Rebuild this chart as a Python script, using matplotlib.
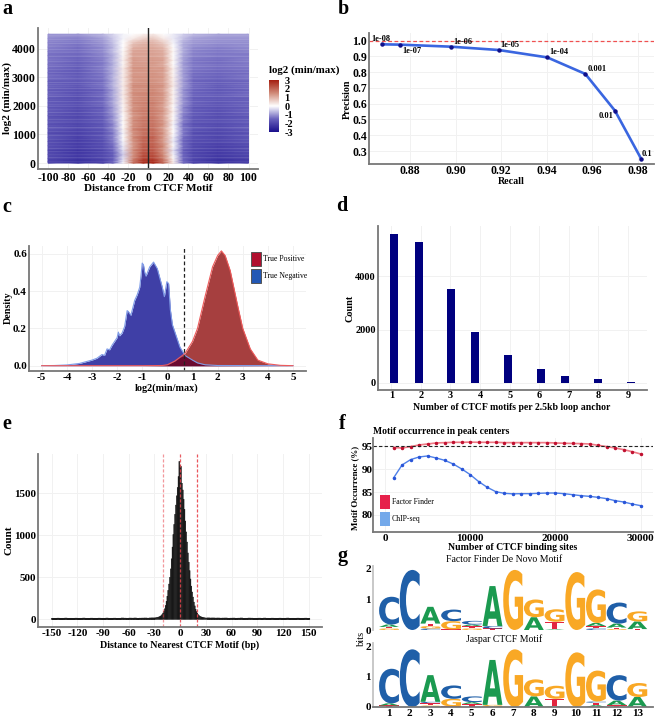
import numpy as np
import matplotlib
matplotlib.use("Agg")
import matplotlib.pyplot as plt
from matplotlib.colors import LinearSegmentedColormap
from matplotlib.patches import PathPatch, Rectangle
from matplotlib.textpath import TextPath
from matplotlib.font_manager import FontProperties
from matplotlib.transforms import Affine2D

plt.rcParams['font.family'] = ['Liberation Serif', 'DejaVu Serif']
plt.rcParams['font.weight'] = 'bold'
plt.rcParams['axes.labelweight'] = 'bold'
plt.rcParams['axes.unicode_minus'] = False
W, H = 656, 719

# ---------- panel a data
heat_x = [-100, -70, -45, -35, -25, -15, -5, 5, 15, 25, 35, 45, 70, 100]
heat_y = [0, 60, 150, 300, 450, 600, 750, 900, 1050, 1200, 1350, 1500, 1650, 1800, 1950, 2100,
          2250, 2400, 2550, 2700, 2850, 3000, 3150, 3300, 3450, 3600, 3750, 3900, 4050, 4200, 4350, 4500]
heat_z = [
 [-2.0,-2.3,-2.1,-1.5,-0.1,1.9,2.8,2.9,2.0,0.3,-1.4,-2.1,-2.3,-2.1],
 [-2.1,-2.4,-2.1,-1.5,-0.2,1.8,2.7,2.8,1.9,0.2,-1.5,-2.1,-2.4,-2.2],
 [-2.0,-2.3,-2.0,-1.6,-0.3,1.6,2.5,2.5,1.7,0.1,-1.5,-2.0,-2.3,-2.1],
 [-1.9,-2.2,-1.9,-1.6,-0.5,1.4,2.3,2.3,1.5,-0.1,-1.5,-2.0,-2.2,-2.0],
 [-2.0,-2.3,-2.0,-1.5,-0.3,1.5,2.2,2.2,1.4,-0.3,-1.6,-2.0,-2.2,-1.9],
 [-1.8,-2.1,-1.8,-1.4,-0.2,1.3,2.1,2.1,1.5,0.0,-1.4,-1.9,-2.1,-1.9],
 [-1.9,-2.2,-1.9,-1.3,-0.1,1.4,2.0,2.0,1.3,-0.2,-1.5,-1.9,-2.0,-1.8],
 [-1.7,-2.1,-1.7,-1.2,0.0,1.5,2.0,2.1,1.3,-0.1,-1.4,-1.8,-2.0,-1.7],
 [-1.9,-2.1,-1.8,-1.3,-0.1,1.4,1.8,1.9,1.4,0.0,-1.3,-1.9,-2.0,-1.8],
 [-1.7,-2.0,-1.7,-1.1,0.1,1.6,1.9,1.9,1.2,0.0,-1.3,-1.7,-1.9,-1.6],
 [-1.8,-2.0,-1.7,-1.2,0.0,1.4,1.7,1.8,1.4,-0.1,-1.4,-1.8,-1.9,-1.7],
 [-1.7,-1.9,-1.6,-1.0,0.1,1.5,1.8,1.8,1.3,0.1,-1.2,-1.7,-1.8,-1.6],
 [-1.8,-2.0,-1.6,-1.1,0.0,1.3,1.6,1.7,1.2,0.0,-1.3,-1.7,-1.9,-1.7],
 [-1.6,-1.9,-1.5,-0.9,0.2,1.5,1.7,1.7,1.4,0.2,-1.1,-1.6,-1.8,-1.5],
 [-1.7,-1.9,-1.6,-1.0,0.1,1.4,1.6,1.6,1.2,0.0,-1.2,-1.7,-1.8,-1.6],
 [-1.6,-1.8,-1.4,-0.8,0.2,1.5,1.6,1.7,1.3,0.2,-1.0,-1.5,-1.7,-1.5],
 [-1.7,-1.9,-1.5,-0.9,0.2,1.4,1.5,1.5,1.3,0.1,-1.1,-1.6,-1.7,-1.6],
 [-1.5,-1.8,-1.4,-0.8,0.3,1.5,1.6,1.6,1.4,0.2,-1.0,-1.5,-1.6,-1.4],
 [-1.6,-1.8,-1.5,-0.9,0.2,1.4,1.4,1.5,1.2,0.1,-1.1,-1.5,-1.7,-1.5],
 [-1.5,-1.7,-1.3,-0.7,0.3,1.5,1.5,1.5,1.4,0.3,-0.9,-1.4,-1.6,-1.4],
 [-1.6,-1.7,-1.4,-0.8,0.2,1.3,1.4,1.4,1.2,0.2,-1.0,-1.5,-1.6,-1.5],
 [-1.4,-1.6,-1.3,-0.7,0.3,1.4,1.4,1.4,1.3,0.2,-0.9,-1.4,-1.5,-1.3],
 [-1.5,-1.7,-1.3,-0.8,0.2,1.3,1.3,1.4,1.2,0.1,-1.0,-1.4,-1.5,-1.4],
 [-1.4,-1.6,-1.2,-0.7,0.3,1.4,1.4,1.3,1.3,0.2,-0.9,-1.3,-1.4,-1.3],
 [-1.4,-1.6,-1.3,-0.8,0.1,1.3,1.3,1.3,1.1,0.0,-1.0,-1.3,-1.4,-1.3],
 [-1.3,-1.5,-1.2,-0.7,0.2,1.3,1.2,1.3,1.2,0.1,-0.9,-1.3,-1.4,-1.2],
 [-1.4,-1.5,-1.2,-0.8,0.1,1.2,1.2,1.2,1.1,0.0,-0.9,-1.2,-1.3,-1.3],
 [-1.3,-1.4,-1.1,-0.6,0.1,1.2,1.2,1.2,1.1,0.1,-0.8,-1.2,-1.3,-1.2],
 [-1.2,-1.4,-1.1,-0.7,0.0,1.0,1.1,1.1,0.9,0.0,-0.8,-1.1,-1.2,-1.1],
 [-1.2,-1.3,-1.0,-0.6,0.0,0.8,1.0,1.0,0.7,-0.1,-0.8,-1.0,-1.1,-1.1],
 [-1.1,-1.2,-0.9,-0.5,-0.1,0.3,0.6,0.7,0.3,-0.2,-0.6,-0.9,-1.0,-1.0],
 [-1.0,-1.0,-0.7,-0.4,-0.1,0.0,0.2,0.3,0.0,-0.2,-0.5,-0.7,-0.9,-0.9],
]
heat_streak = [0.1,0.5,0.0,0.3,0.8,0.1,0.4,0.0,0.6,0.2,0.9,0.1,0.3,0.0,0.7,0.2,0.5,0.1,0.0,0.8,
               0.3,0.1,0.6,0.0,0.4,1.0,0.2,0.0,0.5,0.3,0.7,0.1,0.0,0.6,0.2,0.9,0.0,0.4,0.1,0.7,
               0.2,0.5,0.0,0.8,0.3,0.1,1.0,0.2,0.4,0.0,0.6,0.1,0.8,0.3,0.0,0.5,0.9,0.1,0.3,0.7,
               0.0,0.4,0.2,0.8,0.1,0.6,0.0,0.9,0.3,0.5,0.1,0.7,0.2,0.0,1.0,0.4,0.1,0.6,0.3,0.8,
               0.0,0.5,0.2,0.9,0.1,0.4,0.7,0.0,0.3,0.6]
cbar_ticks = [3, 2, 1, 0, -1, -2, -3]

# ---------- panel b data
pr_recall = [0.8678, 0.8756, 0.898, 0.9189, 0.9403, 0.957, 0.970, 0.9815]
pr_precision = [0.977, 0.975, 0.962, 0.941, 0.894, 0.789, 0.556, 0.251]
pr_labels = ['1e-08', '1e-07', '1e-06', '1e-05', '1e-04', '0.001', '0.01', '0.1']

# ---------- panel c data
blue_x = [-5,-4.5,-4,-3.5,-3,-2.8,-2.6,-2.5,-2.4,-2.3,-2.2,-2.1,-2,-1.95,-1.9,-1.8,-1.7,-1.6,-1.55,-1.45,
          -1.3,-1.2,-1.1,-1.05,-1,-0.95,-0.9,-0.85,-0.7,-0.55,-0.4,-0.3,-0.2,-0.12,-0.02,0.05,0.12,0.2,0.3,
          0.5,0.7,1,1.2,1.5,2,5]
blue_y = [0,0.001,0.004,0.012,0.03,0.04,0.06,0.055,0.09,0.085,0.11,0.13,0.15,0.18,0.16,0.175,0.21,0.295,0.29,
          0.27,0.35,0.38,0.42,0.48,0.55,0.54,0.5,0.48,0.53,0.555,0.52,0.47,0.42,0.37,0.45,0.44,0.3,0.22,0.18,
          0.1,0.055,0.03,0.015,0.005,0.001,0]
red_x = [-5,-1,-0.2,0,0.3,0.7,1,1.2,1.5,1.8,2,2.15,2.3,2.5,2.8,3,3.3,3.6,4,4.5,5]
red_y = [0,0,0.001,0.005,0.025,0.065,0.13,0.2,0.37,0.53,0.59,0.615,0.59,0.51,0.32,0.2,0.09,0.03,0.01,0.002,0]
threshold = 0.68

# ---------- panel d data
motif_pos = [1.10, 1.93, 3.01, 3.83, 4.95, 6.05, 6.88, 7.99, 9.10]
motif_counts = [5590, 5275, 3510, 1900, 1050, 540, 260, 135, 50]

# ---------- panel e data
core_counts = [15,17,20,22,25,28,32,38,46,58,75,95,125,165,215,275,345,420,500,600,720,860,1010,1130,1250,1360,
               1470,1570,1700,1880,1830,1820,1620,1540,1430,1310,1170,1040,920,790,680,580,480,395,325,265,205,
               160,120,92,72,56,45,37,31,27,24,21,19,17,15]
core_start = -30
tail_left = [9,8,10,7,9,11,8,9,7,10,8,9,11,8,7,10,9,8,10,9,7,11,8,9,10,8,9,12,10,9,11,10,12,9,10,11,12,10,13,14]
tail_right = [14,12,13,11,12,10,11,12,9,10,11,9,10,12,8,9,11,10,8,9,10,8,11,9,7,10,9,8,10,7,9,11,8,9,7,10,8,9,10,8]
e_lines = [-20, 0, 20]

# ---------- panel f data
sites = list(range(1000, 31000, 1000))
ff_occ = [94.71,94.64,94.93,95.29,95.51,95.73,95.80,95.87,95.87,95.91,95.87,95.87,95.87,95.80,95.80,95.80,95.80,
          95.80,95.80,95.73,95.66,95.62,95.58,95.51,95.22,94.93,94.64,94.27,93.83,93.32]
chip_occ = [88.08,90.92,92.09,92.67,92.89,92.45,91.94,91.14,90.05,88.81,87.28,86.04,85.09,84.73,84.62,84.66,84.66,
            84.73,84.80,84.80,84.66,84.44,84.22,84.07,83.86,83.57,83.13,82.84,82.40,82.04]

# ---------- panel g data (bottom to top stacks)
logo_denovo = [
 [('G',.05),('T',.05),('A',.08),('C',.91)],
 [('C',1.97)],
 [('C',.05),('G',.08),('T',.08),('A',.55)],
 [('T',.02),('G',.27),('C',.38)],
 [('G',.05),('T',.08),('A',.05),('C',.12)],
 [('T',.05),('C',.08),('A',1.31)],
 [('G',1.97)],
 [('A',.42),('G',.58)],
 [('A',.02),('T',.25),('G',.41)],
 [('G',1.9)],
 [('C',.05),('T',.08),('A',.1),('G',1.1)],
 [('G',.03),('T',.05),('A',.13),('C',.69)],
 [('T',.03),('A',.25),('G',.33)],
]
logo_jaspar = [
 [('T',.05),('A',.07),('C',1.14)],
 [('C',1.9)],
 [('G',.05),('T',.08),('C',.04),('A',.88)],
 [('T',.02),('G',.25),('C',.44)],
 [('T',.1),('A',.06),('C',.19)],
 [('G',.07),('A',1.48)],
 [('G',1.9)],
 [('A',.35),('G',.56)],
 [('A',.02),('T',.25),('G',.43)],
 [('G',1.8)],
 [('A',.06),('T',.08),('C',.04),('G',1.02)],
 [('T',.06),('A',.15),('C',.84)],
 [('A',.33),('G',.46)],
]
logo_colors = {'A': '#1b9a50', 'C': '#1f5fa8', 'G': '#f9a825', 'T': '#e3263f'}

SPINE = '#777777'
GRID = '#f1f1f1'
fig = plt.figure(figsize=(W / 100, H / 100), dpi=100)


def make_axes(l, t, r, b, cal_x, cal_y, fs=8.5, pad=1.5, ypad=1.5):
    """Axes from a pixel box; cal_x/cal_y = ((px, val), (px, val))."""
    ax = fig.add_axes([l / W, 1 - b / H, (r - l) / W, (b - t) / H])
    (p0, v0), (p1, v1) = cal_x
    sx = (v1 - v0) / (p1 - p0)
    ax.set_xlim(v0 + (l - p0) * sx, v0 + (r - p0) * sx)
    (p0, v0), (p1, v1) = cal_y
    sy = (v1 - v0) / (p1 - p0)
    ax.set_ylim(v0 + (b - p0) * sy, v0 + (t - p0) * sy)
    for s in ('top', 'right'):
        ax.spines[s].set_visible(False)
    for s in ('left', 'bottom'):
        ax.spines[s].set_color(SPINE)
        ax.spines[s].set_linewidth(1.3)
    ax.grid(True, color=GRID, lw=0.7)
    ax.set_axisbelow(True)
    ax.tick_params(length=0, labelsize=fs)
    ax.tick_params(axis='x', pad=pad)
    ax.tick_params(axis='y', pad=ypad)
    return ax


def labels(ax, xlabel, xpos, xfs, ylabel, ypos, yfs):
    ax.set_xlabel(xlabel, fontsize=xfs, va='center', ha='center')
    ax.xaxis.set_label_coords(xpos[0] / W, 1 - xpos[1] / H, transform=fig.transFigure)
    ax.set_ylabel(ylabel, fontsize=yfs, va='center', ha='center')
    ax.yaxis.set_label_coords(ypos[0] / W, 1 - ypos[1] / H, transform=fig.transFigure)


def pix_text(x, y, s, **kw):
    fig.text(x / W, 1 - y / H, s, **kw)


for x, y, s in [(2, 9, 'a'), (338, 9, 'b'), (2, 207, 'c'), (336, 206, 'd'), (2, 424, 'e'), (339, 424, 'f'), (338, 556, 'g')]:
    pix_text(x, y, s, fontsize=14.5, fontweight='bold', va='center', ha='left')

# ---------- a
ax = make_axes(38, 28, 258, 169, ((48, -100), (248.5, 100)), ((163, 0), (48.5, 4000)), fs=8.5, pad=2)
cmap = LinearSegmentedColormap.from_list('rwb', ['#1a0f8c', '#6a62bd', '#ffffff', '#d08a78', '#a51d0f'])
ax.pcolormesh(heat_x, heat_y, np.array(heat_z), cmap=cmap, vmin=-3, vmax=3, shading='gouraud', rasterized=True)
for i, s in enumerate(heat_streak):
    ax.hlines(25 + 50 * i, -100, 100, color='white', lw=0.5, alpha=0.2 * s)
ax.axvline(0, color='#222222', lw=1)
ax.set_xticks(range(-100, 101, 20))
ax.set_yticks(range(0, 4001, 1000))
labels(ax, 'Distance from CTCF Motif', (148, 188.5), 8, 'log2 (min/max)', (7, 98), 8)
cax = fig.add_axes([269 / W, 1 - 132 / H, 10 / W, 52 / H])
cax.imshow(np.linspace(3, -3, 256)[:, None], cmap=cmap, vmin=-3, vmax=3, aspect='auto', extent=[0, 1, -3, 3])
cax.set_xticks([])
cax.yaxis.tick_right()
cax.set_yticks(cbar_ticks)
cax.set_yticklabels([str(v) for v in cbar_ticks], fontsize=7.5)
cax.tick_params(length=0, pad=4)
for s in cax.spines.values():
    s.set_visible(False)
pix_text(269, 70, 'log2 (min/max)', fontsize=7.8, va='center', ha='left')

# ---------- b
ax = make_axes(369, 33, 654, 164, ((410, 0.88), (637.7, 0.98)), ((40.7, 1.0), (151, 0.3)), fs=8.5, pad=1)
ax.axhline(1.0, color='#f05050', lw=0.9, ls=(0, (3, 2)))
ax.plot(pr_recall, pr_precision, color='#3a66e0', lw=1.9, marker='o', ms=2.2, mfc='#10108a', mec='#10108a')
offs = [(-11, 3), (2, -8), (2, 3), (2, 3), (2, 3), (2, 3), (-16, -7), (1, 3)]
for rx, py, lab, (dx, dy) in zip(pr_recall, pr_precision, pr_labels, offs):
    ax.annotate(lab, (rx, py), xytext=(dx * .72, dy * .72), textcoords='offset points', fontsize=6)
ax.set_xticks([0.88, 0.90, 0.92, 0.94, 0.96, 0.98])
ax.set_xticklabels(['0.88', '0.90', '0.92', '0.94', '0.96', '0.98'])
ax.set_yticks(np.arange(3, 11) / 10)
labels(ax, 'Recall', (511.7, 181.5), 7.2, 'Precision', (347, 99), 7.2)

# ---------- c
ax = make_axes(29, 246, 306, 371, ((41.7, -5), (293, 5)), ((365.7, 0.0), (253.7, 0.6)), fs=8)
grid_x = np.array(sorted(set(blue_x) | set(red_x)))
b_i = np.interp(grid_x, blue_x, blue_y)
r_i = np.interp(grid_x, red_x, red_y)
ax.fill_between(grid_x, 0, b_i, color='#3f3fa6', lw=0)
ax.plot(blue_x, blue_y, color='#7f9ce8', lw=0.8)
ax.fill_between(grid_x, 0, r_i, color='#a63f3f', lw=0)
ax.plot(red_x, red_y, color='#ee5a5a', lw=0.8)
ax.fill_between(grid_x, 0, np.minimum(b_i, r_i), color='#6b0a30', lw=0)
ax.axvline(threshold, color='#222222', lw=0.9, ls=(0, (3, 2)))
ax.set_xticks(range(-5, 6))
ax.set_yticks([0, 0.2, 0.4, 0.6])
labels(ax, 'log2(min/max)', (167, 387.7), 7.3, 'Density', (8, 308), 7.3)
for y0, col, lab in [(252, '#b0102f', 'True Positive'), (269, '#2358b5', 'True Negative')]:
    fig.patches.append(Rectangle((251 / W, 1 - (y0 + 14) / H), 10 / W, 14 / H, transform=fig.transFigure,
                                 fc=col, ec='#555555', lw=0.7))
    pix_text(263, y0 + 7, lab, fontsize=5.6, fontweight='normal', va='center', ha='left')

# ---------- d
ax = make_axes(378, 226, 647, 390, ((391.3, 1), (628, 9)), ((383, 0), (276.3, 4000)), fs=7.5, pad=1)
ax.bar(motif_pos, motif_counts, width=0.27, color='#00007f')
ax.set_xticks(range(1, 10))
ax.set_yticks([0, 2000, 4000])
labels(ax, 'Number of CTCF motifs per 2.5kb loop anchor', (512, 407), 7, 'Count', (350, 308), 7.3)

# ---------- e
ax = make_axes(38, 454, 322, 627, ((51.7, -150), (308.7, 150)), ((619.3, 0), (493.3, 1500)), fs=8)
core_x = [core_start + i for i in range(len(core_counts))]
left_x = [-150 + 3 * i + 1.5 for i in range(len(tail_left))]
right_x = [31 + 3 * i + 1.5 for i in range(len(tail_right))]
ax.bar(left_x, tail_left, width=3, color='#1a1a1a', ec='#1a1a1a', lw=0.8, snap=False)
ax.bar(right_x, tail_right, width=3, color='#1a1a1a', ec='#1a1a1a', lw=0.8, snap=False)
ax.bar(core_x, core_counts, width=1.05, color='#141414', ec='#141414', lw=0.3, snap=False)
for xv, a in zip(e_lines, (0.55, 0.85, 0.9)):
    ax.axvline(xv, color='#e8424a', lw=0.9, ls=(0, (2.5, 1.5)), alpha=a)
ax.set_xticks(range(-150, 151, 30))
ax.set_yticks([0, 500, 1000, 1500])
labels(ax, 'Distance to Nearest CTCF Motif (bp)', (180, 645), 7.2, 'Count', (8.7, 540.7), 8)

# ---------- f
ax = make_axes(373, 438, 653, 532, ((385, 0), (640.7, 30000)), ((446.3, 95), (515, 80)), fs=8, ypad=0)
ax.plot(sites, ff_occ, color='#ee7a85', lw=1.2, marker='o', ms=1.5, mfc='#c01030', mec='#c01030')
ax.plot(sites, chip_occ, color='#4d7fe8', lw=1, marker='o', ms=1.5, mfc='#2a55d8', mec='#2a55d8')
ax.axhline(95, color='#222222', lw=0.8, ls=(0, (3, 2)))
ax.set_xticks([0, 10000, 20000, 30000])
ax.set_yticks([80, 85, 90, 95])
labels(ax, 'Number of CTCF binding sites', (513, 547), 7, 'Motif Occurrence (%)', (355.5, 488), 6.4)
pix_text(373, 432, 'Motif occurrence in peak centers', fontsize=6.9, va='center', ha='left')
for y0, col, lab in [(495, '#e6214b', 'Factor Finder'), (512, '#74a9ea', 'ChIP-seq')]:
    fig.patches.append(Rectangle((380 / W, 1 - (y0 + 14) / H), 10 / W, 14 / H, transform=fig.transFigure,
                                 fc=col, ec='none'))
    pix_text(392, y0 + 7, lab, fontsize=5.6, fontweight='normal', va='center', ha='left')

# ---------- g
fp = FontProperties(family='DejaVu Sans', weight='bold')


def draw_logo(ax, stacks):
    for i, stack in enumerate(stacks, start=1):
        base = 0.0
        for letter, h in stack:
            tp = TextPath((0, 0), letter, size=1, prop=fp)
            bb = tp.get_extents()
            tr = (Affine2D().translate(-bb.x0, -bb.y0).scale(0.96 / bb.width, h / bb.height)
                  .translate(i - 0.48, base))
            ax.add_patch(PathPatch(tp, transform=tr + ax.transData, fc=logo_colors[letter], lw=0))
            base += h


ax1 = make_axes(373, 566, 653, 630, ((389, 1), (637.3, 13)), ((630, 0), (569, 2)), fs=8)
ax2 = make_axes(373, 643, 653, 707, ((389, 1), (637.3, 13)), ((707, 0), (646.3, 2)), fs=8)
draw_logo(ax1, logo_denovo)
draw_logo(ax2, logo_jaspar)
for a in (ax1, ax2):
    a.grid(False)
    a.set_yticks([0, 1, 2])
    a.spines['left'].set_color('#c4c4c4')
ax1.set_xticks([])
ax1.spines['bottom'].set_visible(False)
ax2.set_xticks(range(1, 14))
pix_text(504, 560, 'Factor Finder De Novo Motif', fontsize=7, fontweight='normal', va='center', ha='center')
pix_text(504, 639, 'Jaspar CTCF Motif', fontsize=7, fontweight='normal', va='center', ha='center')
pix_text(361, 638, 'bits', fontsize=7.5, fontweight='normal', rotation=90, va='center', ha='center')

fig.savefig('out.png', dpi=100)
